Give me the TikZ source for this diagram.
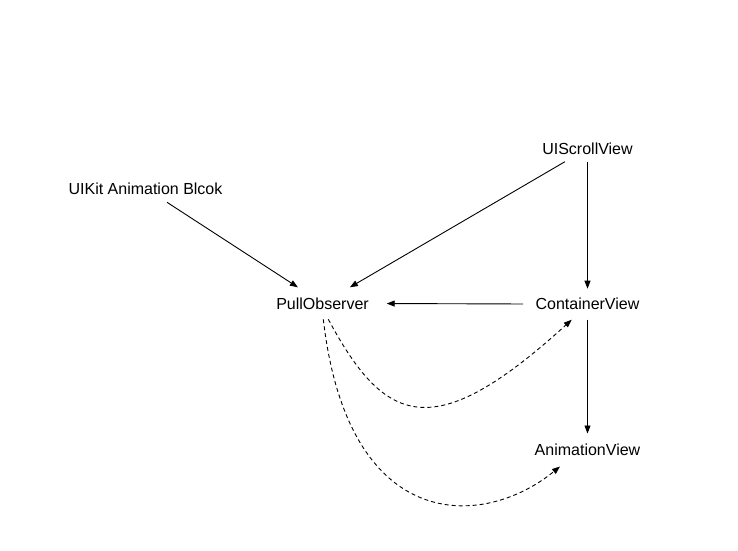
\documentclass[tikz,border=0pt]{standalone}
\usepackage{fontspec}
\setmainfont{Liberation Sans}
\usetikzlibrary{arrows.meta}
\begin{document}
\begin{tikzpicture}[x=1pt,y=-1pt,
  lbl/.style={font=\fontsize{16}{19}\selectfont, text height=11.5pt, text depth=0pt, inner sep=0pt, outer sep=0pt},
  arr/.style={draw, line width=0.9pt, -{Triangle[length=8pt,width=6pt]}},
  dsh/.style={arr, dash pattern=on 4pt off 3pt}]
\fill[white] (0,0) rectangle (738,550);
\useasboundingbox (0,0) rectangle (738,550);
\node[lbl, minimum width=160pt, minimum height=28pt] (uikit) at (145.5,188.3) {UIKit Animation Blcok};
\node[lbl, minimum width=100pt, minimum height=26.4pt] (scroll) at (587.5,148.5) {UIScrollView};
\node[lbl, minimum width=128.4pt, minimum height=32pt] (pull) at (322.5,303.3) {PullObserver};
\node[lbl, minimum width=129pt, minimum height=31pt] (cont) at (587.5,304.2) {ContainerView};
\node[lbl, minimum width=110pt, minimum height=33pt] (anim) at (587.5,450) {AnimationView};
\draw[arr] (uikit) -- (pull);
\draw[arr] (scroll) -- (pull);
\draw[arr] (scroll) -- (cont);
\draw[arr] (cont) -- (pull);
\draw[arr] (cont) -- (anim);
\draw[dsh] ([xshift=5.8pt]pull.south) .. controls (385,425) and (433,446) .. ([xshift=-15.8pt]cont.south);
\draw[dsh] ([xshift=0.8pt]pull.south) .. controls (348,534) and (482,530) .. ([xshift=-27.5pt]anim.south);
\end{tikzpicture}
\end{document}
